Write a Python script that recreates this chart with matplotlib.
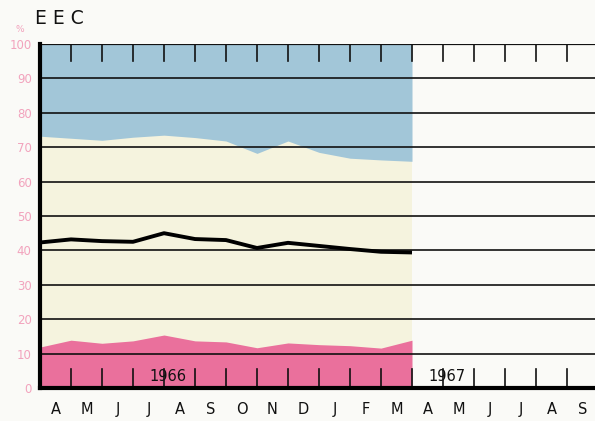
import numpy as np
import matplotlib
matplotlib.use("Agg")
import matplotlib.pyplot as plt

# monthly points, April 1966 .. April 1967 (month boundaries)
pink_top = [11.9, 13.9, 13.0, 13.7, 15.4, 13.7, 13.4, 11.7, 13.1, 12.6, 12.3, 11.6, 13.9]
black_line = [42.3, 43.2, 42.7, 42.5, 45.0, 43.3, 43.0, 40.7, 42.2, 41.3, 40.4, 39.6, 39.4]
blue_bottom = [73.2, 72.6, 72.0, 72.9, 73.5, 72.8, 71.8, 68.2, 71.8, 68.5, 66.8, 66.3, 65.9]

months = ["A", "M", "J", "J", "A", "S", "O", "N", "D", "J", "F", "M",
          "A", "M", "J", "J", "A", "S"]
year_labels = ["1966", "1967"]
year_ticks = [4, 13]
y_ticks = [0, 10, 20, 30, 40, 50, 60, 70, 80, 90, 100]

blue = "#a2c6d8"
cream = "#f5f3de"
pink = "#ea709c"
label_pink = "#f2a3bd"
bg = "#fafaf7"

fig = plt.figure(figsize=(5.95, 4.21), dpi=100, facecolor=bg)
ax = fig.add_axes([40 / 595, 33 / 421, 555 / 595, 344 / 421], facecolor=bg)

x = np.arange(len(pink_top))
ax.fill_between(x, 0, 100, color=cream, lw=0, zorder=1)
ax.fill_between(x, blue_bottom, 100, color=blue, lw=0, zorder=2)
ax.fill_between(x, 0, pink_top, color=pink, lw=0, zorder=2)

for v in y_ticks[1:]:
    ax.axhline(v, color="#111111", lw=1.2 if v < 100 else 1.6, zorder=3)

# month ticks, from top and bottom
for k in range(1, len(months)):
    ax.plot([k, k], [100, 95], color="#111111", lw=1.2, zorder=3)
    ax.plot([k, k], [0, 5.5], color="#111111", lw=1.2, zorder=3)

ax.plot(x, black_line, color="#000000", lw=2.8, solid_capstyle="butt", zorder=4)

for lab, k in zip(year_labels, year_ticks):
    ax.text(k + 0.12, 3.3, lab, ha="center", va="center", fontsize=10.5,
            color="#111111", zorder=5)

ax.set_xlim(0, 555 / 31)
ax.set_ylim(0, 100)

ax.set_xticks(np.arange(len(months)) + 0.5)
ax.set_xticklabels(months, fontsize=10.5, color="#111111")
ax.set_yticks(y_ticks)
ax.set_yticklabels([str(v) for v in y_ticks], fontsize=8.5, color=label_pink)
ax.tick_params(axis="x", length=0, pad=10)
ax.tick_params(axis="y", length=0, pad=6)

for s in ["top", "right"]:
    ax.spines[s].set_visible(False)
ax.spines["left"].set_linewidth(3)
ax.spines["bottom"].set_linewidth(3)
ax.spines["left"].set_zorder(6)
ax.spines["bottom"].set_zorder(6)

fig.text(20 / 595, 1 - 30 / 421, "%", fontsize=6.5, color=label_pink,
         ha="center", va="center")
fig.text(35 / 595, 1 - 18 / 421, "E E C", fontsize=13.5, color="#111111",
         ha="left", va="center")

fig.savefig("out.png", dpi=100, facecolor=bg)
